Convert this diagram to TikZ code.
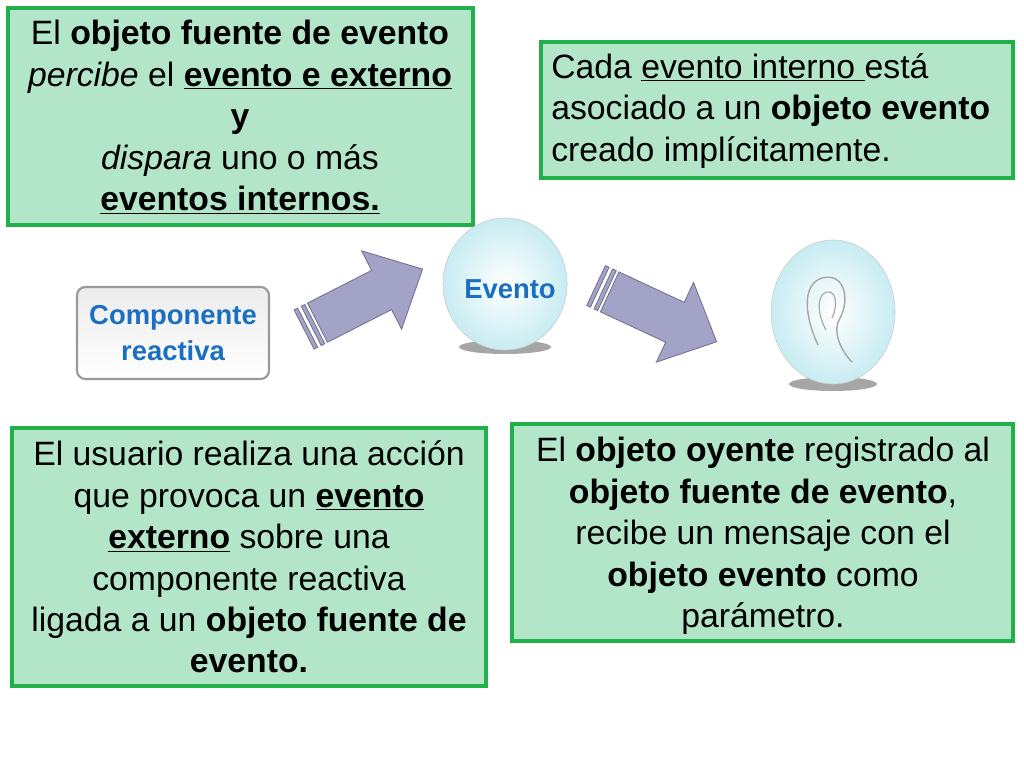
\documentclass[tikz,border=0pt]{standalone}
\usepackage{fontspec}
\setmainfont{Liberation Sans}
\usetikzlibrary{shapes,arrows}
\definecolor{boxfill}{HTML}{B3E6C9}
\definecolor{boxline}{HTML}{22B04B}
\definecolor{arrowfill}{HTML}{A3A3C8}
\definecolor{evblue}{HTML}{1A6FC0}
\definecolor{ballfill}{HTML}{C8ECF2}
\begin{document}
\begin{tikzpicture}[x=0.025cm,y=-0.025cm]
	\tikzstyle{info-box}=[draw=boxline,fill=boxfill,line width=2.2pt]
	\tikzstyle{info-text}=[font=\fontsize{24}{29.5}\selectfont,align=center,inner sep=0pt]
	\tikzstyle{blk-arrow}=[draw=arrowfill!70!black,fill=arrowfill,line width=0.6pt]
	\tikzstyle{ball}=[ellipse,draw=gray!40,inner color=white,outer color=ballfill,inner sep=0pt]
	\useasboundingbox (0,0) rectangle (1024,768);
	\fill[white] (0,0) rectangle (1024,768);
	% boxes
	\draw[info-box] (8,8) rectangle (473,225);
	\draw[info-box] (541,42) rectangle (1013,178);
	\draw[info-box] (12,428) rectangle (486,686);
	\draw[info-box] (512,424) rectangle (1013,641);
	% texts
	\node[info-text] (fuente-label) at (240,117) {El \textbf{objeto fuente de evento}\\ \textit{percibe} el \textbf{\underline{evento e externo}}\\ \textbf{y}\\ \textit{dispara} uno o más\\ \textbf{\underline{eventos internos.}}};
	\node[info-text,align=left,anchor=west] (interno-label) at (551,111) {Cada \underline{evento interno }está\\ asociado a un \textbf{objeto evento}\\ creado implícitamente.};
	\node[info-text] (usuario-label) at (249,557) {El usuario realiza una acción\\ que provoca un \textbf{\underline{evento}}\\ \textbf{\underline{externo}} sobre una\\ componente reactiva\\ ligada a un \textbf{objeto fuente de}\\ \textbf{evento.}};
	\node[info-text] (oyente-label) at (763,536) {El \textbf{objeto oyente} registrado al\\ \textbf{objeto fuente de evento},\\ recibe un mensaje con el\\ \textbf{objeto evento} como\\ parámetro.};
	% componente
	\node[rounded corners=6pt,draw=gray!80,line width=1.5pt,top color=gray!15,bottom color=white,minimum width=4.8cm,minimum height=2.3cm,align=center,text=evblue,font=\fontsize{19.5}{26}\selectfont\bfseries] (comp) at (173,333) {Componente\\ reactiva};
	% evento ball
	\fill[gray!70] (505,347) ellipse (46 and 7);
	\node[ball,minimum width=3.1cm,minimum height=3.3cm] (evento) at (505,284) {};
	\node[text=evblue,font=\fontsize{19.5}{24}\selectfont\bfseries] (evento-label) at (510,289) {Evento};
	% oyente ball
	\fill[gray!70] (833,384) ellipse (44 and 7);
	\node[ball,minimum width=3.1cm,minimum height=3.6cm] (oyente) at (833,312) {};
	\draw[gray!70,line width=1pt] (818,345) .. controls (806,320) and (800,285) .. (822,278) .. controls (845,272) and (850,300) .. (840,318) .. controls (832,330) and (840,350) .. (852,362);
	\draw[gray!70,line width=0.8pt] (826,330) .. controls (815,310) and (818,290) .. (830,292) .. controls (838,295) and (836,310) .. (832,318);
	% arrows
	\begin{scope}[shift={(362,300)},rotate=27]
		\draw[blk-arrow] (-50,-22) -- (22,-22) -- (22,-44) -- (68,0) -- (22,44) -- (22,22) -- (-50,22) -- cycle;
		\draw[blk-arrow] (-57,-22) -- (-53,-22) -- (-53,22) -- (-57,22) -- cycle;
		\draw[blk-arrow] (-65,-22) -- (-61,-22) -- (-61,22) -- (-65,22) -- cycle;
	\end{scope}
	\begin{scope}[shift={(655,313)},rotate=-25]
		\draw[blk-arrow] (-50,-22) -- (22,-22) -- (22,-44) -- (68,0) -- (22,44) -- (22,22) -- (-50,22) -- cycle;
		\draw[blk-arrow] (-57,-22) -- (-53,-22) -- (-53,22) -- (-57,22) -- cycle;
		\draw[blk-arrow] (-65,-22) -- (-61,-22) -- (-61,22) -- (-65,22) -- cycle;
	\end{scope}
\end{tikzpicture}
\end{document}
